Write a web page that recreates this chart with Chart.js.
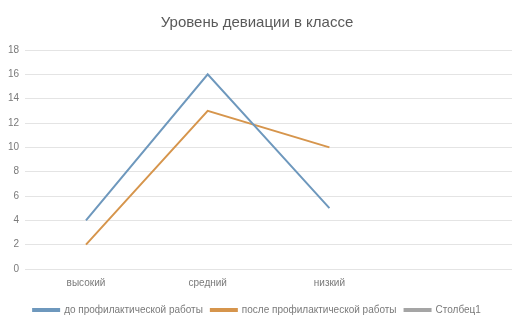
<!DOCTYPE html>
<html lang="ru">
<head>
  <meta charset="UTF-8">
  <title>Уровень девиации в классе</title>
  <script src="https://cdn.jsdelivr.net/npm/chart.js"></script>
  <style>
    html, body { margin: 0; padding: 0; background: #fff; }
    #wrap { width: 522px; height: 326px; }
  </style>
</head>
<body>
  <div id="wrap"><canvas id="chart" width="522" height="326"></canvas></div>
  <script>
    // данные
    const categories = ['высокий', 'средний', 'низкий', ''];
    const seriesNames = ['до профилактической работы', 'после профилактической работы', 'Столбец1'];
    const beforeValues = [4, 16, 5, null];
    const afterValues = [2, 13, 10, null];
    const column1Values = [null, null, null, null];
    const yTicks = [0, 2, 4, 6, 8, 10, 12, 14, 16, 18];

    const font = { family: '"Liberation Sans", Arial, sans-serif', size: 10 };

    new Chart(document.getElementById('chart').getContext('2d'), {
      type: 'line',
      data: {
        labels: categories,
        datasets: [
          { label: seriesNames[0], data: beforeValues, borderColor: '#6e98bd', backgroundColor: '#6e98bd', borderWidth: 2, pointRadius: 0, tension: 0 },
          { label: seriesNames[1], data: afterValues, borderColor: '#d6954c', backgroundColor: '#d6954c', borderWidth: 2, pointRadius: 0, tension: 0 },
          { label: seriesNames[2], data: column1Values, borderColor: '#a5a5a5', backgroundColor: '#a5a5a5', borderWidth: 2, pointRadius: 0 }
        ]
      },
      options: {
        responsive: false,
        animation: false,
        layout: { padding: { left: 2, right: 10, top: 0, bottom: 1 } },
        plugins: {
          title: {
            display: true,
            text: 'Уровень девиации в классе',
            color: '#595959',
            font: { family: font.family, size: 15, weight: 'normal' },
            padding: { top: 14, bottom: 18 }
          },
          legend: {
            position: 'bottom',
            labels: {
              color: '#7a7a7a',
              font: font,
              boxWidth: 26,
              boxHeight: 2,
              padding: 8
            }
          },
          tooltip: { enabled: false }
        },
        scales: {
          x: {
            offset: true,
            grid: { display: false, drawTicks: false },
            border: { display: false },
            ticks: { color: '#7a7a7a', font: font, padding: 8, maxRotation: 0 }
          },
          y: {
            min: 0,
            max: 18,
            afterBuildTicks: axis => { axis.ticks = yTicks.map(v => ({ value: v })); },
            grid: { color: '#e4e4e4', drawTicks: false },
            border: { display: false },
            ticks: { color: '#7a7a7a', font: font, padding: 6 }
          }
        }
      }
    });
  </script>
</body>
</html>
